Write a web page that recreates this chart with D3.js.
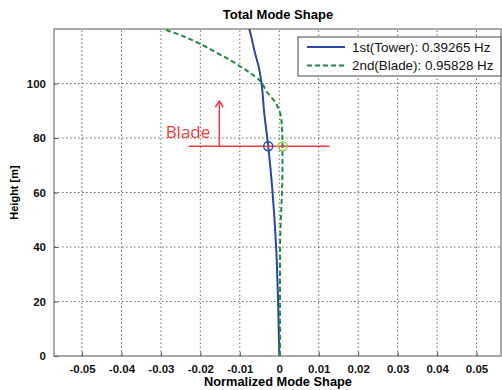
<!DOCTYPE html>
<html>
<head>
<meta charset="utf-8">
<script src="https://cdn.jsdelivr.net/npm/d3@7"></script>
<style>
  body { margin: 0; background: #fff; }
  svg { display: block; font-family: "Liberation Sans", Arial, sans-serif; }
</style>
</head>
<body>
<div id="chart"></div>
<script>
// Mode shape data (height in m, normalized displacement)
const towerHeight = [0, 20, 40, 60, 77, 89, 100, 106, 112, 116, 120];
const towerShape = [0, -0.0003, -0.0008, -0.0017, -0.0028, -0.0038, -0.0045, -0.0052, -0.0063, -0.0069, -0.0076];
const bladeHeight = [0, 20, 40, 50, 61, 70, 77, 83, 88, 92.6, 97.5, 100.6, 104, 107.3, 111, 114.7, 118, 120];
const bladeShape = [0.0002, 0.0002, 0.0002, 0.0004, 0.0007, 0.0008, 0.0008, 0.0007, 0.0004, -0.0008, -0.0034, -0.0046, -0.0075, -0.011, -0.0155, -0.0203, -0.0255, -0.0295];
const series = [
  { name: '1st(Tower): 0.39265 Hz', x: towerShape, y: towerHeight, color: '#2a46a8', dash: null },
  { name: '2nd(Blade): 0.95828 Hz', x: bladeShape, y: bladeHeight, color: '#1f8a3c', dash: '5 3' }
];
const xTicks = [-0.05, -0.04, -0.03, -0.02, -0.01, 0, 0.01, 0.02, 0.03, 0.04, 0.05];
const yTicks = [0, 20, 40, 60, 80, 100];
const bladeLevel = 77;
const bladeMarkX = [-0.0028, 0.0009];
const bladeLineX = [-0.023, 0.0127];
const arrowTop = 93.5;

const W = 502, H = 390;
const margin = { top: 29, right: 0, bottom: 34, left: 54 };

const svg = d3.select('#chart').append('svg')
  .attr('width', W).attr('height', H);

const x = d3.scaleLinear().domain([-0.0571, 0.0562]).range([margin.left, W - 1]);
const y = d3.scaleLinear().domain([0, 120]).range([H - margin.bottom, margin.top]);

// Grid
const grid = svg.append('g').attr('stroke', '#444').attr('stroke-width', 0.8).attr('stroke-dasharray', '1.5 2.5');
grid.selectAll('.gx').data(xTicks).enter().append('line')
  .attr('x1', d => x(d)).attr('x2', d => x(d))
  .attr('y1', y(0)).attr('y2', y(120));
grid.selectAll('.gy').data(yTicks.filter(d => d > 0)).enter().append('line')
  .attr('x1', x.range()[0]).attr('x2', x.range()[1])
  .attr('y1', d => y(d)).attr('y2', d => y(d));

// Frame
svg.append('rect')
  .attr('x', x.range()[0]).attr('y', y(120))
  .attr('width', x.range()[1] - x.range()[0]).attr('height', y(0) - y(120))
  .attr('fill', 'none').attr('stroke', '#555').attr('stroke-width', 1);

// Axes
const xAxis = svg.append('g')
  .attr('transform', `translate(0,${y(0)})`)
  .call(d3.axisBottom(x).tickValues(xTicks).tickSize(-4).tickPadding(9).tickFormat(d => d === 0 ? '0' : d3.format('.2f')(d).replace('−', '-')));
const yAxis = svg.append('g')
  .attr('transform', `translate(${x.range()[0]},0)`)
  .call(d3.axisLeft(y).tickValues(yTicks).tickSize(-4).tickPadding(8));
[xAxis, yAxis].forEach(g => {
  g.select('.domain').remove();
  g.selectAll('.tick line').attr('stroke', '#555');
  g.selectAll('.tick text').attr('fill', '#111').style('font-size', '11.5px').style('font-weight', 'bold');
});

// Lines
const line = d3.line().x(d => x(d[0])).y(d => y(d[1])).curve(d3.curveMonotoneY);
series.forEach(s => {
  svg.append('path')
    .datum(s.x.map((v, i) => [v, s.y[i]]))
    .attr('fill', 'none')
    .attr('stroke', s.color)
    .attr('stroke-width', 2)
    .attr('stroke-dasharray', s.dash)
    .attr('d', line);
});

// Blade annotation
const red = '#f03c3c';
svg.append('line')
  .attr('x1', x(bladeLineX[0])).attr('x2', x(bladeLineX[1]))
  .attr('y1', y(bladeLevel)).attr('y2', y(bladeLevel))
  .attr('stroke', red).attr('stroke-width', 1.5);
const ax = x(-0.0152);
svg.append('line')
  .attr('x1', ax).attr('x2', ax)
  .attr('y1', y(bladeLevel)).attr('y2', y(arrowTop))
  .attr('stroke', red).attr('stroke-width', 1.5);
svg.append('path')
  .attr('d', `M${ax - 4},${y(arrowTop) + 6}L${ax},${y(arrowTop)}L${ax + 4},${y(arrowTop) + 6}`)
  .attr('fill', 'none').attr('stroke', red).attr('stroke-width', 1.5);
svg.append('text')
  .attr('x', x(-0.0288)).attr('y', y(bladeLevel) - 8)
  .attr('fill', red).style('font-family', '"Open Sans", sans-serif').style('font-size', '17px')
  .text('Blade');
svg.append('circle')
  .attr('cx', x(bladeMarkX[0])).attr('cy', y(bladeLevel)).attr('r', 4.5)
  .attr('fill', 'none').attr('stroke', '#2a46a8').attr('stroke-width', 1.5);
svg.append('circle')
  .attr('cx', x(bladeMarkX[1])).attr('cy', y(bladeLevel)).attr('r', 4.5)
  .attr('fill', 'none').attr('stroke', '#8cd050').attr('stroke-width', 1.5);

// Legend
const lg = svg.append('g').attr('transform', 'translate(298,37)');
lg.append('rect').attr('width', 203).attr('height', 39)
  .attr('fill', '#fff').attr('stroke', '#444').attr('stroke-width', 1);
series.forEach((s, i) => {
  const ly = 10 + i * 18.5;
  lg.append('line').attr('x1', 9).attr('x2', 47).attr('y1', ly).attr('y2', ly)
    .attr('stroke', s.color).attr('stroke-width', 2).attr('stroke-dasharray', s.dash);
  lg.append('text').attr('x', 54).attr('y', ly + 4.5)
    .style('font-size', '13.4px').attr('fill', '#111').text(s.name);
});

// Titles
svg.append('text').attr('x', 278).attr('y', 19).attr('text-anchor', 'middle')
  .style('font-size', '13px').style('font-weight', 'bold').text('Total Mode Shape');
svg.append('text').attr('x', 278).attr('y', 386).attr('text-anchor', 'middle')
  .style('font-size', '12.8px').style('font-weight', 'bold').text('Normalized Mode Shape');
svg.append('text').attr('transform', `translate(18,${y(60)}) rotate(-90)`).attr('text-anchor', 'middle')
  .style('font-size', '11px').style('font-weight', 'bold').text('Height [m]');
</script>
</body>
</html>
